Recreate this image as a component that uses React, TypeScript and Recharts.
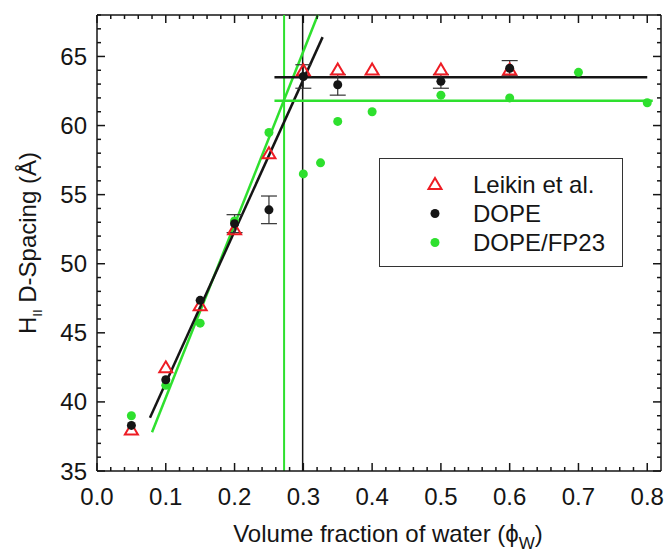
import {
  ScatterChart, Scatter, XAxis, YAxis, ReferenceLine, ErrorBar, Legend,
} from 'recharts'

// values
const leikinX = [0.05, 0.1, 0.15, 0.2, 0.25, 0.3, 0.35, 0.4, 0.5, 0.6]
const leikinY = [38.0, 42.5, 47.0, 52.5, 58.0, 64.0, 64.05, 64.05, 64.05, 64.05]

const dopeX = [0.05, 0.1, 0.15, 0.2, 0.25, 0.3, 0.35, 0.5, 0.6]
const dopeY = [38.3, 41.6, 47.35, 52.9, 53.9, 63.55, 62.95, 63.2, 64.15]
const dopeErr = [0, 0, 0, 0.65, 1.0, 0.85, 0.75, 0.5, 0.55]

const fp23X = [0.05, 0.1, 0.15, 0.2, 0.25, 0.3, 0.325, 0.35, 0.4, 0.5, 0.6, 0.7, 0.8]
const fp23Y = [39.0, 41.2, 45.7, 53.1, 59.5, 56.5, 57.3, 60.3, 61.0, 62.2, 62.0, 63.85, 61.65]

// fitted lines (end points) and phase boundaries
const dopeFit = [{ x: 0.077, y: 38.85 }, { x: 0.328, y: 66.4 }]
const fp23Fit = [{ x: 0.08, y: 37.8 }, { x: 0.321, y: 68 }]
const dopePlateau = [{ x: 0.258, y: 63.5 }, { x: 0.8, y: 63.5 }]
const fp23Plateau = [{ x: 0.258, y: 61.8 }, { x: 0.808, y: 61.8 }]
const dopeBoundary = 0.299
const fp23Boundary = 0.272

const xDomain = [0, 0.82]
const yDomain = [35, 68]
const xTickLabels = ['0.0', '0.1', '0.2', '0.3', '0.4', '0.5', '0.6', '0.7', '0.8']
const yTickLabels = ['35', '40', '45', '50', '55', '60', '65']

const xTicks = Array.from({ length: 41 }, (_, i) => i / 50)
const yTicks = Array.from({ length: 34 }, (_, i) => 35 + i)

const RED = '#ee1c24'
const GREEN = '#2ee02e'
const INK = '#151515'
const FONT = '"Liberation Sans", Arial, Helvetica, sans-serif'

const W = 671
const H = 555
const margin = { top: 15, right: 10, bottom: 0, left: 0 }
const Y_AXIS_W = 97
const X_AXIS_H = 84
const plotW = W - margin.left - margin.right - Y_AXIS_W
const plotH = H - margin.top - margin.bottom - X_AXIS_H

const leikin = leikinX.map((x, i) => ({ x, y: leikinY[i] }))
const dope = dopeX.map((x, i) => ({ x, y: dopeY[i], err: dopeErr[i] }))
const fp23 = fp23X.map((x, i) => ({ x, y: fp23Y[i] }))

const isMajorX = (v: number) => Math.round(v * 50) % 5 === 0
const isMajorY = (v: number) => Math.round(v) % 5 === 0

// bottom ticks point inward, mirrored on the top edge of the frame
function BottomTick({ x, y, payload }: any) {
  const major = isMajorX(payload.value)
  const len = major ? 8 : 4
  const top = y - plotH
  const label = xTickLabels[Math.round(payload.value * 10)]
  return (
    <g>
      <line x1={x} y1={y} x2={x} y2={y - len} stroke={INK} strokeWidth={1.5} />
      <line x1={x} y1={top} x2={x} y2={top + len} stroke={INK} strokeWidth={1.5} />
      {major && (
        <text x={x} y={y + 34} textAnchor="middle" fontSize={24} fontFamily={FONT} fill={INK}>{label}</text>
      )}
    </g>
  )
}

function LeftTick({ x, y, payload }: any) {
  const major = isMajorY(payload.value)
  const len = major ? 8 : 4
  const right = x + plotW
  const label = yTickLabels[Math.round((payload.value - 35) / 5)]
  return (
    <g>
      <line x1={x} y1={y} x2={x + len} y2={y} stroke={INK} strokeWidth={1.5} />
      <line x1={right} y1={y} x2={right - len} y2={y} stroke={INK} strokeWidth={1.5} />
      {major && (
        <text x={x - 10} y={y + 8.5} textAnchor="end" fontSize={24} fontFamily={FONT} fill={INK}>{label}</text>
      )}
    </g>
  )
}

function XTitle({ viewBox }: any) {
  const cx = viewBox.x + viewBox.width / 2 + 9
  return (
    <text x={cx} y={viewBox.y + 71} textAnchor="middle" fontSize={24} fontFamily={FONT} fill={INK}>
      Volume fraction of water (ϕ<tspan fontSize={17} dy={7}>W</tspan><tspan dy={-7}>)</tspan>
    </text>
  )
}

function YTitle({ viewBox }: any) {
  const cy = viewBox.y + viewBox.height / 2
  return (
    <text transform={`translate(${viewBox.x + 36},${cy}) rotate(-90)`} textAnchor="middle" fontSize={24} fontFamily={FONT} fill={INK}>
      H<tspan fontSize={13} dy={6}>II</tspan><tspan dy={-6}> D-Spacing (Å)</tspan>
    </text>
  )
}

function Triangle({ cx, cy }: any) {
  return <polygon points={`${cx},${cy - 6} ${cx + 6.5},${cy + 5} ${cx - 6.5},${cy + 5}`} fill="none" stroke={RED} strokeWidth={2} />
}

function Dot({ cx, cy, fill }: any) {
  return <circle cx={cx} cy={cy} r={4.5} fill={fill} />
}

const legendItems = [
  { name: 'Leikin et al.', kind: 'tri', color: RED },
  { name: 'DOPE', kind: 'dot', color: INK },
  { name: 'DOPE/FP23', kind: 'dot', color: GREEN },
]

function LegendBox() {
  return (
    <div style={{ width: 244, height: 109, border: '1.5px solid #333', background: '#fff', paddingTop: 11, boxSizing: 'border-box' }}>
      {legendItems.map(it => (
        <div key={it.name} style={{ display: 'flex', alignItems: 'center', height: 29 }}>
          <svg width={93} height={29}>
            {it.kind === 'tri'
              ? <Triangle cx={55} cy={14} />
              : <Dot cx={55} cy={14.5} fill={it.color} />}
          </svg>
          <span style={{ fontSize: 24, fontFamily: FONT, color: INK, lineHeight: '29px' }}>{it.name}</span>
        </div>
      ))}
    </div>
  )
}

export default function App() {
  return (
    <div style={{ position: 'absolute', left: 0, top: 0, background: '#fff' }}>
      <ScatterChart width={W} height={H} margin={margin}>
        <XAxis
          type="number" dataKey="x" domain={xDomain} ticks={xTicks} interval={0}
          allowDataOverflow height={X_AXIS_H} tickSize={0} tickMargin={0}
          axisLine={{ stroke: INK, strokeWidth: 1.5 }} tickLine={false}
          tick={<BottomTick />} label={<XTitle />}
        />
        <YAxis
          type="number" dataKey="y" domain={yDomain} ticks={yTicks} interval={0}
          allowDataOverflow width={Y_AXIS_W} tickSize={0} tickMargin={0}
          axisLine={{ stroke: INK, strokeWidth: 1.5 }} tickLine={false}
          tick={<LeftTick />} label={<YTitle />}
        />

        {/* top and right edges of the frame */}
        <ReferenceLine y={yDomain[1]} stroke={INK} strokeWidth={1.5} />
        <ReferenceLine x={xDomain[1]} stroke={INK} strokeWidth={1.5} />

        <ReferenceLine x={fp23Boundary} stroke={GREEN} strokeWidth={2} />
        <ReferenceLine x={dopeBoundary} stroke={INK} strokeWidth={1.5} />
        <ReferenceLine segment={fp23Fit} stroke={GREEN} strokeWidth={2.5} />
        <ReferenceLine segment={dopeFit} stroke={INK} strokeWidth={2.5} />
        <ReferenceLine segment={fp23Plateau} stroke={GREEN} strokeWidth={2.5} />
        <ReferenceLine segment={dopePlateau} stroke={INK} strokeWidth={2.5} />

        <Scatter name="DOPE/FP23" data={fp23} isAnimationActive={false} shape={(p: any) => <Dot {...p} fill={GREEN} />} />
        <Scatter name="Leikin et al." data={leikin} isAnimationActive={false} shape={(p: any) => <Triangle {...p} />} />
        <Scatter name="DOPE" data={dope} isAnimationActive={false} shape={(p: any) => <Dot {...p} fill={INK} />}>
          <ErrorBar dataKey="err" direction="y" width={8} stroke="#333" strokeWidth={1.2} isAnimationActive={false} />
        </Scatter>

        <Legend
          layout="horizontal" verticalAlign="middle" align="center"
          content={<LegendBox />}
          wrapperStyle={{ position: 'absolute', left: 379, top: 158, width: 'auto', height: 'auto' }}
        />
      </ScatterChart>
    </div>
  )
}
